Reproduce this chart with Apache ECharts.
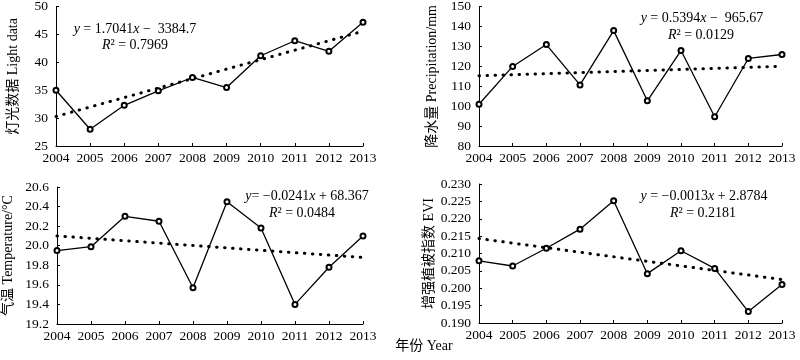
<!DOCTYPE html>
<html>
<head>
<meta charset="utf-8">
<script src="https://cdn.jsdelivr.net/npm/echarts@6/dist/echarts.min.js"></script>
<style>html,body{margin:0;padding:0;background:#fff}#c{width:800px;height:360px}</style>
</head>
<body>
<div id="c"></div>
<script>
var years = ['2004','2005','2006','2007','2008','2009','2010','2011','2012','2013'];
var lightData = [35.0, 28.0, 32.3, 34.9, 37.3, 35.5, 41.2, 43.9, 42.0, 47.2];
var precipData = [101, 120, 131, 110.7, 138, 102.7, 128, 94.7, 124, 126];
var tempData = [19.95, 19.99, 20.30, 20.25, 19.57, 20.45, 20.18, 19.40, 19.78, 20.10];
var eviData = [0.2079, 0.2064, 0.2115, 0.2170, 0.2252, 0.2042, 0.2108, 0.2057, 0.1933, 0.2011];
var lightTrend = [30.3, 45.6];
var precipTrend = [115.3, 120.1];
var tempTrend = [20.10, 19.88];
var eviTrend = [0.2143, 0.2025];
var lightTicks = [25, 50, 5];
var precipTicks = [80, 150, 10];
var tempTicks = [19.2, 20.6, 0.2];
var eviTicks = [0.190, 0.230, 0.005];

var FONT = '"Liberation Serif", "Times New Roman", "Noto Sans CJK SC", serif';
var grids = [
  {left: 56, top: 6, width: 307, height: 140},
  {left: 479, top: 6, width: 303, height: 140},
  {left: 56, top: 187, width: 307, height: 137},
  {left: 479, top: 184, width: 303, height: 139}
];
var names = ['灯光数据 Light data', '降水量 Precipitation/mm', '气温 Temperature/°C', '增强植被指数 EVI'];
var nameGaps = [36, 40, 42, 41];
var ticks = [lightTicks, precipTicks, tempTicks, eviTicks];
var decs = [0, 0, 1, 3];
var datas = [lightData, precipData, tempData, eviData];
var trends = [lightTrend, precipTrend, tempTrend, eviTrend];

var xAxes = [], yAxes = [], series = [];
for (var i = 0; i < 4; i++) {
  xAxes.push({
    type: 'category', gridIndex: i, data: years, boundaryGap: false,
    axisLine: {lineStyle: {color: '#000', width: 1}},
    axisTick: {inside: true, length: 3, lineStyle: {color: '#000'}},
    axisLabel: {color: '#000', fontFamily: FONT, fontSize: 13.5, margin: 6, interval: 0},
    splitLine: {show: false}
  });
  (function(d){
    yAxes.push({
      type: 'value', gridIndex: i, min: ticks[i][0], max: ticks[i][1], interval: ticks[i][2],
      name: names[i], nameLocation: 'middle', nameGap: nameGaps[i], nameRotate: 90,
      nameTextStyle: {color: '#000', fontFamily: FONT, fontSize: 14},
      axisLine: {show: true, lineStyle: {color: '#000', width: 1}},
      axisTick: {show: true, inside: true, length: 3, lineStyle: {color: '#000'}},
      axisLabel: {color: '#000', fontFamily: FONT, fontSize: 13.5, margin: 8,
        formatter: function(v){ return v.toFixed(d); }},
      splitLine: {show: false}
    });
  })(decs[i]);
  series.push({
    type: 'line', xAxisIndex: i, yAxisIndex: i, data: datas[i],
    symbol: 'emptyCircle', symbolSize: 5,
    lineStyle: {color: '#000', width: 1.3},
    itemStyle: {color: '#000', borderColor: '#000', borderWidth: 1},
    animation: false, z: 3
  });
  series.push({
    type: 'line', xAxisIndex: i, yAxisIndex: i,
    data: [[years[0], trends[i][0]], [years[years.length - 1], trends[i][1]]],
    symbol: 'none',
    lineStyle: {color: '#000', width: 3, type: [0.5, 7.5], cap: 'round'},
    animation: false, z: 2
  });
}

function eqText(x, y, t) {
  return {
    type: 'text', x: x, y: y,
    style: {
      text: t, textAlign: 'center', textVerticalAlign: 'middle',
      fontFamily: FONT, fontSize: 14, fill: '#000',
      rich: {
        i: {fontFamily: FONT, fontSize: 14, fontStyle: 'italic', fill: '#000'},
        n: {fontFamily: FONT, fontSize: 14, fill: '#000'}
      }
    }
  };
}

var graphic = [
  eqText(135, 29, '{i|y}{n| = 1.7041}{i|x}{n| −  3384.7}'),
  eqText(135, 45, '{i|R}{n|² = 0.7969}'),
  eqText(702, 18, '{i|y}{n| = 0.5394}{i|x}{n| −  965.67}'),
  eqText(701, 35, '{i|R}{n|² = 0.0129}'),
  eqText(307, 196, '{i|y}{n|= −0.0241}{i|x}{n| + 68.367}'),
  eqText(302, 213, '{i|R}{n|² = 0.0484}'),
  eqText(704, 196, '{i|y}{n| = −0.0013}{i|x}{n| + 2.8784}'),
  eqText(703, 213, '{i|R}{n|² = 0.2181}'),
  {type: 'text', x: 424, y: 346, style: {text: '年份 Year', textAlign: 'center', textVerticalAlign: 'middle', fontFamily: FONT, fontSize: 14, fill: '#000'}}
];

var chart = echarts.init(document.getElementById('c'), null, {renderer: 'canvas'});
chart.setOption({
  animation: false,
  backgroundColor: '#fff',
  grid: grids,
  xAxis: xAxes,
  yAxis: yAxes,
  series: series,
  graphic: graphic
});
</script>
</body>
</html>
